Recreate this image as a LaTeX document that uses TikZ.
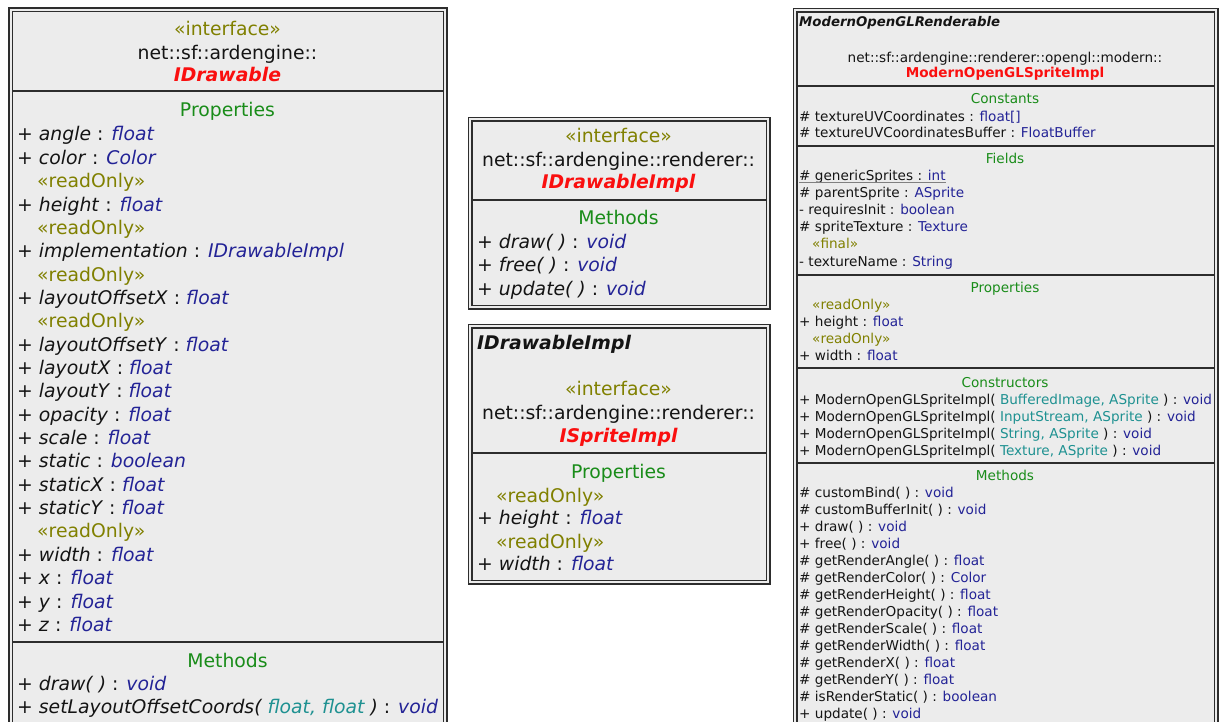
\documentclass[tikz,border=0pt]{standalone}
\usepackage{fontspec}
\setmainfont{DejaVu Sans}

\definecolor{boxfill}{RGB}{236,236,236}
\definecolor{boxline}{RGB}{45,45,45}
\definecolor{stereo}{RGB}{128,128,0}
\definecolor{section}{RGB}{25,140,25}
\definecolor{typeblue}{RGB}{35,35,150}
\definecolor{paramteal}{RGB}{30,145,145}
\definecolor{classred}{RGB}{250,15,15}
\definecolor{plain}{RGB}{20,20,20}

% text helpers
\newcommand\umlst[1]{\textcolor{stereo}{«#1»}}
\newcommand\umlty[1]{\textcolor{typeblue}{#1}}
\newcommand\umlpar[1]{\textcolor{paramteal}{#1}}
\newcommand\umlsec[1]{\textcolor{section}{#1}}
% italic member: + name : type
\newcommand\iprop[2]{+ \textit{#1} : \textit{\umlty{#2}}}

\newcounter{umlrowno}
% a left-aligned row: font style, x, baseline y, content
\newcommand\umlrow[4]{\stepcounter{umlrowno}%
  \node[#1, anchor=base west] (row\arabic{umlrowno}) at (#2,#3) {#4};}
% a centred row: font style, x, baseline y, content
\newcommand\umlmid[4]{\stepcounter{umlrowno}%
  \node[#1, anchor=base] (row\arabic{umlrowno}) at (#2,#3) {#4};}

\tikzset{
  umlbox/.style={rectangle, anchor=north west, inner sep=0pt, fill=boxfill,
    draw=boxline, line width=1.4pt, double=boxfill, double distance=2.2pt},
  umlsep/.style={draw=boxline, line width=2.4pt},
  bigtext/.style={inner sep=0pt, text=plain, font=\fontsize{18.8}{23}\selectfont},
  smalltext/.style={inner sep=0pt, text=plain, font=\fontsize{13.6}{17}\selectfont},
}

\begin{document}
\begin{tikzpicture}[x=1pt, y=-1pt]
\path[fill=white] (0,0) rectangle (1224,722);
\clip (0,0) rectangle (1224,722);

% ---------------- IDrawable ----------------
\node[umlbox, minimum width=434.5pt, minimum height=760pt] (idrawable) at (10,9) {};
\draw[umlsep] (12,91) -- (443,91);
\draw[umlsep] (12,642) -- (443,642);
\umlmid{bigtext}{227.5}{36}{\umlst{interface}}
\umlmid{bigtext}{227.5}{60}{net::sf::ardengine::}
\umlmid{bigtext}{227.5}{82}{\textcolor{classred}{\bfseries\itshape IDrawable}}
\umlmid{bigtext}{227.5}{117}{\umlsec{Properties}}
\newcommand\lrow[2]{\umlrow{bigtext}{17}{{141+23.35*#1}}{#2}}
\newcommand\lro[1]{\umlrow{bigtext}{37}{{141+23.35*#1}}{\umlst{readOnly}}}
\lrow{0}{\iprop{angle}{float}}
\lrow{1}{\iprop{color}{Color}}
\lro{2}
\lrow{3}{\iprop{height}{float}}
\lro{4}
\lrow{5}{\iprop{implementation}{IDrawableImpl}}
\lro{6}
\lrow{7}{\iprop{layoutOffsetX}{float}}
\lro{8}
\lrow{9}{\iprop{layoutOffsetY}{float}}
\lrow{10}{\iprop{layoutX}{float}}
\lrow{11}{\iprop{layoutY}{float}}
\lrow{12}{\iprop{opacity}{float}}
\lrow{13}{\iprop{scale}{float}}
\lrow{14}{\iprop{static}{boolean}}
\lrow{15}{\iprop{staticX}{float}}
\lrow{16}{\iprop{staticY}{float}}
\lro{17}
\lrow{18}{\iprop{width}{float}}
\lrow{19}{\iprop{x}{float}}
\lrow{20}{\iprop{y}{float}}
\lrow{21}{\iprop{z}{float}}
\umlmid{bigtext}{227.5}{667}{\umlsec{Methods}}
\umlrow{bigtext}{17}{690}{+ \textit{draw( )} : \textit{\umlty{void}}}
\umlrow{bigtext}{17}{713}{+ \textit{setLayoutOffsetCoords( \umlpar{float, float} )} : \textit{\umlty{void}}}

% ---------------- IDrawableImpl ----------------
\node[umlbox, minimum width=298pt, minimum height=188pt] (idrawableimpl) at (469.5,118.5) {};
\draw[umlsep] (471.5,200) -- (765.5,200);
\umlmid{bigtext}{618.5}{143}{\umlst{interface}}
\umlmid{bigtext}{618.5}{167}{net::sf::ardengine::renderer::}
\umlmid{bigtext}{618.5}{189}{\textcolor{classred}{\bfseries\itshape IDrawableImpl}}
\umlmid{bigtext}{618.5}{225}{\umlsec{Methods}}
\umlrow{bigtext}{477}{249}{+ \textit{draw( )} : \textit{\umlty{void}}}
\umlrow{bigtext}{477}{272}{+ \textit{free( )} : \textit{\umlty{void}}}
\umlrow{bigtext}{477}{295}{+ \textit{update( )} : \textit{\umlty{void}}}

% ---------------- ISpriteImpl ----------------
\node[umlbox, minimum width=298pt, minimum height=256pt] (ispriteimpl) at (469.5,325.5) {};
\draw[umlsep] (471.5,453) -- (765.5,453);
\umlrow{bigtext}{477}{349}{\bfseries\itshape IDrawableImpl}
\umlmid{bigtext}{618.5}{395}{\umlst{interface}}
\umlmid{bigtext}{618.5}{419}{net::sf::ardengine::renderer::}
\umlmid{bigtext}{618.5}{442}{\textcolor{classred}{\bfseries\itshape ISpriteImpl}}
\umlmid{bigtext}{618.5}{478}{\umlsec{Properties}}
\umlrow{bigtext}{496}{502}{\umlst{readOnly}}
\umlrow{bigtext}{477}{524}{\iprop{height}{float}}
\umlrow{bigtext}{496}{548}{\umlst{readOnly}}
\umlrow{bigtext}{477}{570}{\iprop{width}{float}}

% ---------------- ModernOpenGLSpriteImpl ----------------
\node[umlbox, minimum width=421pt, minimum height=760pt] (glsprite) at (794.5,9.5) {};
\draw[umlsep] (796.5,86) -- (1213.5,86);
\draw[umlsep] (796.5,146) -- (1213.5,146);
\draw[umlsep] (796.5,275) -- (1213.5,275);
\draw[umlsep] (796.5,368) -- (1213.5,368);
\draw[umlsep] (796.5,463) -- (1213.5,463);
\umlrow{smalltext, font=\fontsize{13.3}{16}\selectfont}{799}{27}{\bfseries\itshape ModernOpenGLRenderable}
\umlmid{smalltext}{1005}{63}{net::sf::ardengine::renderer::opengl::modern::}
\umlmid{smalltext}{1005}{78}{\textcolor{classred}{\bfseries ModernOpenGLSpriteImpl}}
\umlmid{smalltext}{1005}{104}{\umlsec{Constants}}
\umlrow{smalltext}{799}{122}{\# textureUVCoordinates : \umlty{float[]}}
\umlrow{smalltext}{799}{138}{\# textureUVCoordinatesBuffer : \umlty{FloatBuffer}}
\umlmid{smalltext}{1005}{164}{\umlsec{Fields}}
% static field, underlined
\node[smalltext, anchor=base west] (generic) at (799,181) {\# genericSprites : \umlty{int}};
\draw[gray, line width=1.3pt] ([yshift=-1.8pt]generic.base west) -- ([yshift=-1.8pt]generic.base east);
\umlrow{smalltext}{799}{198}{\# parentSprite : \umlty{ASprite}}
\umlrow{smalltext}{799}{215}{- requiresInit : \umlty{boolean}}
\umlrow{smalltext}{799}{232}{\# spriteTexture : \umlty{Texture}}
\umlrow{smalltext}{812}{249}{\umlst{final}}
\umlrow{smalltext}{799}{266}{- textureName : \umlty{String}}
\umlmid{smalltext}{1005}{292}{\umlsec{Properties}}
\umlrow{smalltext}{812}{309}{\umlst{readOnly}}
\umlrow{smalltext}{799}{326}{+ height : \umlty{float}}
\umlrow{smalltext}{812}{343}{\umlst{readOnly}}
\umlrow{smalltext}{799}{360}{+ width : \umlty{float}}
\umlmid{smalltext}{1005}{387}{\umlsec{Constructors}}
\umlrow{smalltext}{799}{404}{+ ModernOpenGLSpriteImpl( \umlpar{BufferedImage, ASprite} ) : \umlty{void}}
\umlrow{smalltext}{799}{421}{+ ModernOpenGLSpriteImpl( \umlpar{InputStream, ASprite} ) : \umlty{void}}
\umlrow{smalltext}{799}{438}{+ ModernOpenGLSpriteImpl( \umlpar{String, ASprite} ) : \umlty{void}}
\umlrow{smalltext}{799}{455}{+ ModernOpenGLSpriteImpl( \umlpar{Texture, ASprite} ) : \umlty{void}}
\umlmid{smalltext}{1005}{480}{\umlsec{Methods}}
\newcommand\rrow[2]{\umlrow{smalltext}{799}{{497+17*#1}}{#2}}
\rrow{0}{\# customBind( ) : \umlty{void}}
\rrow{1}{\# customBufferInit( ) : \umlty{void}}
\rrow{2}{+ draw( ) : \umlty{void}}
\rrow{3}{+ free( ) : \umlty{void}}
\rrow{4}{\# getRenderAngle( ) : \umlty{float}}
\rrow{5}{\# getRenderColor( ) : \umlty{Color}}
\rrow{6}{\# getRenderHeight( ) : \umlty{float}}
\rrow{7}{\# getRenderOpacity( ) : \umlty{float}}
\rrow{8}{\# getRenderScale( ) : \umlty{float}}
\rrow{9}{\# getRenderWidth( ) : \umlty{float}}
\rrow{10}{\# getRenderX( ) : \umlty{float}}
\rrow{11}{\# getRenderY( ) : \umlty{float}}
\rrow{12}{\# isRenderStatic( ) : \umlty{boolean}}
\rrow{13}{+ update( ) : \umlty{void}}
\end{tikzpicture}
\end{document}
